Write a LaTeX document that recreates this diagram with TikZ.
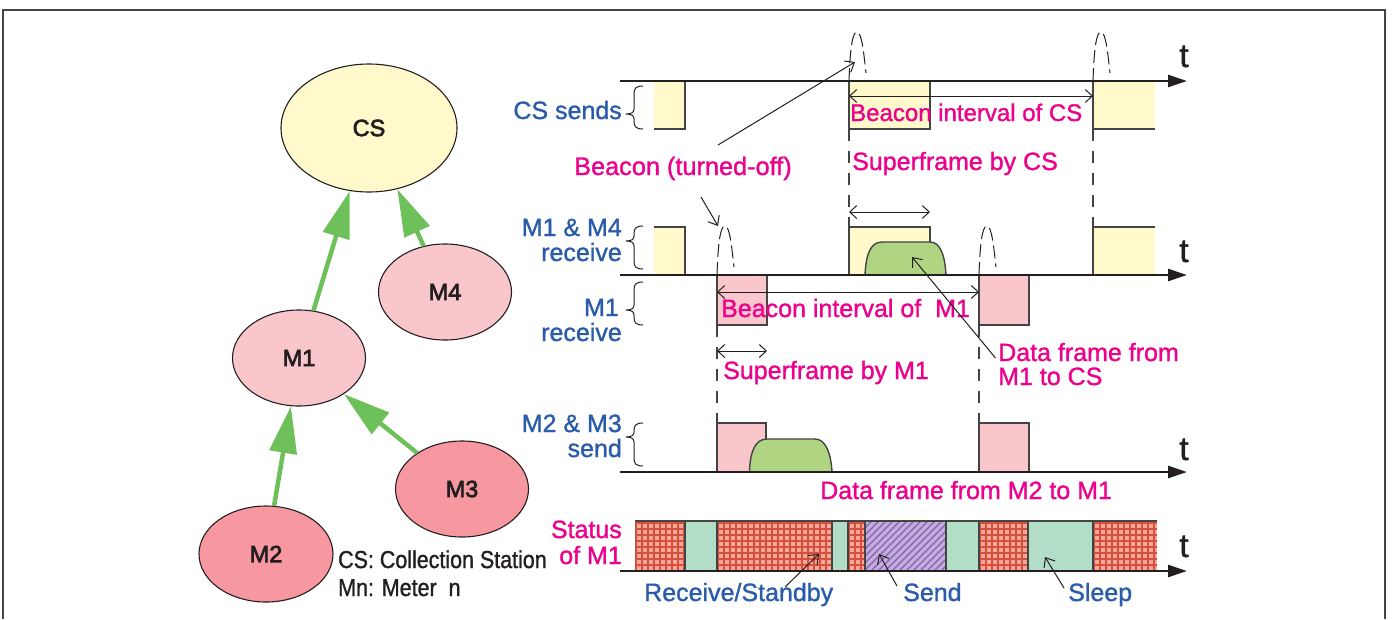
\documentclass[tikz,border=0pt]{standalone}
\usepackage{fontspec}
\setmainfont{Liberation Sans}
\newfontfamily\medfont[FakeBold=3]{Liberation Sans}
\newfontfamily\labfont[FakeBold=1.2]{Liberation Sans}
\newfontfamily\condfont[FakeStretch=0.875,FakeBold=1.2]{Liberation Sans}
\usetikzlibrary{shapes.geometric,arrows.meta}
\definecolor{ink}{HTML}{231F20}
\definecolor{yel}{HTML}{FFF9CC}
\definecolor{pnk}{HTML}{F9C6CB}
\definecolor{dpk}{HTML}{F7979F}
\definecolor{grn}{HTML}{6EC05A}
\definecolor{frm}{HTML}{B0D582}
\definecolor{slp}{HTML}{B2DDC6}
\definecolor{prp}{HTML}{C4ADDA}
\definecolor{prd}{HTML}{8560B2}
\definecolor{mag}{HTML}{EC008C}
\definecolor{blu}{HTML}{2A5CAA}
\definecolor{grl}{HTML}{FBA797}
\definecolor{grd}{HTML}{D5503E}
\definecolor{gry}{HTML}{444444}
\tikzset{
  stn/.style={ellipse,draw=ink,line width=1.1pt,inner sep=0pt,text=ink,font=\fontsize{23.5}{26}\selectfont\medfont},
  link/.style={draw=grn,line width=4.5pt,-{Triangle[length=47pt,width=27pt]}},
  axisline/.style={draw=ink,line width=2.6pt,-{Triangle[length=19pt,width=12pt]}},
  edge/.style={draw=gry,line width=1.5pt},
  vdash/.style={draw=gry,line width=1.1pt,dash pattern=on 12pt off 10pt},
  bdash/.style={draw=ink,line width=1pt,dash pattern=on 13pt off 5pt},
  thin arrow/.style={draw=ink,line width=1pt,-{Straight Barb[length=8pt,width=13pt,line width=1pt]}},
  span/.style={draw=ink,line width=1pt,{Straight Barb[length=7pt,width=13pt,line width=1pt]}-{Straight Barb[length=7pt,width=13pt,line width=1pt]}},
  brc/.style={draw=ink,line width=1pt},
  lab/.style={inner sep=0pt,font=\fontsize{25}{27}\selectfont\labfont},
  mg/.style={lab,text=mag,anchor=base west},
  bl/.style={lab,text=blu,anchor=base east},
  bw/.style={lab,text=blu,anchor=base west},
  tlabel/.style={inner sep=0pt,anchor=base,text=ink,font=\fontsize{33}{36}\selectfont\labfont},
  note/.style={inner sep=0pt,anchor=base west,text=ink,font=\fontsize{24.5}{26}\selectfont\condfont},
}
\newcommand{\bracesh}[3]{%
  \draw[brc] (643,#1) .. controls (636,#1) and (634,#1+2) .. (634,#1+8) -- (634,#2-5)
    .. controls (634,#2-2) and (632,#2) .. (626,#2)
    .. controls (632,#2) and (634,#2+2) .. (634,#2+5) -- (634,#3-8)
    .. controls (634,#3-2) and (636,#3) .. (643,#3);}
\newcommand{\beaconsh}[2]{%
  \draw[bdash] (#1,#2) .. controls (#1+1,#2-30) and (#1+3,#2-49) .. (#1+8,#2-49)
    .. controls (#1+13,#2-49) and (#1+15,#2-25) .. (#1+17,#2-8);}
\newcommand{\gridseg}[2]{%
  \begin{scope}
    \clip (#1,521) rectangle (#2,571);
    \fill[grl] (#1,521) rectangle (#2,571);
    \foreach \k in {0,...,22}{%
      \draw[grd,line width=2pt] (#1+1+\k*6,521) -- (#1+1+\k*6,571);}
    \foreach \k in {0,...,9}{%
      \draw[grd,line width=2pt] (#1,523+\k*6) -- (#2,523+\k*6);}
  \end{scope}}
\newcommand{\sleepseg}[2]{%
  \filldraw[fill=slp,draw=gry,line width=1.4pt] (#1,521) rectangle (#2,571);}
\begin{document}
\begin{tikzpicture}[x=1pt,y=-1pt]
\useasboundingbox (0,0) rectangle (1392,619);
% outer frame
\draw[gry,line width=1.6pt] (3,619) -- (3,10) -- (1385,10) -- (1385,619);
% stations
\node[stn,fill=yel,minimum width=176pt,minimum height=128pt] (cs) at (369,128) {CS};
\node[stn,fill=pnk,minimum width=133pt,minimum height=96pt] (m4) at (445,292) {M4};
\node[stn,fill=pnk,minimum width=133pt,minimum height=96pt] (m1) at (299,358) {M1};
\node[stn,fill=dpk,minimum width=133pt,minimum height=96pt] (m3) at (462,489) {M3};
\node[stn,fill=dpk,minimum width=134pt,minimum height=96pt] (m2) at (266,554) {M2};
\draw[link] (m1) -- (cs);
\draw[link] (m4) -- (cs);
\draw[link] (m3) -- (m1);
\draw[link] (m2) -- (m1);
\node[note] (n1) at (338,568) {CS: Collection Station};
\node[note] (n2) at (338,596) {Mn: Meter\ \ n};
% vertical dashed guides
\draw[vdash] (849,129) -- (849,227);
\draw[vdash] (1093,129) -- (1093,227);
\draw[vdash] (717,325) -- (717,423);
\draw[vdash] (979,325) -- (979,423);
% row 1
\fill[yel] (654,81) rectangle (685,129);
\draw[edge] (654,129) -- (685,129) -- (685,81);
\fill[yel] (849,81) rectangle (930,129);
\draw[edge] (849,81) -- (849,129) -- (930,129) -- (930,81);
\fill[yel] (1093,81) rectangle (1155,129);
\draw[edge] (1093,81) -- (1093,129) -- (1155,129);
% row 2
\fill[yel] (654,227) rectangle (685,275);
\draw[edge] (654,227) -- (685,227) -- (685,275);
\fill[yel] (849,227) rectangle (930,275);
\draw[edge] (849,275) -- (849,227) -- (930,227) -- (930,242);
\fill[yel] (1093,227) rectangle (1155,275);
\draw[edge] (1093,275) -- (1093,227) -- (1155,227);
\filldraw[fill=frm,draw=gry,line width=1.4pt] (865,275) .. controls (866,255) and (870,242) .. (882,242) -- (930,242) .. controls (941,242) and (945,257) .. (946,275);
% row 3
\filldraw[fill=pnk,draw=gry,line width=2pt] (717,275) rectangle (767,325);
\filldraw[fill=pnk,draw=gry,line width=1.5pt] (979,275) rectangle (1029,325);
% row 4
\filldraw[fill=pnk,draw=gry,line width=1.5pt] (717,472) -- (717,423) -- (766,423) -- (766,472);
\filldraw[fill=pnk,draw=gry,line width=1.5pt] (979,472) -- (979,423) -- (1029,423) -- (1029,472);
\filldraw[fill=frm,draw=gry,line width=1.4pt] (749.5,472) .. controls (750,452) and (755,439) .. (767,439) -- (815,439) .. controls (826,439) and (831,454) .. (832,472);
% row 5
\gridseg{635}{685}
\gridseg{717}{832}
\gridseg{848}{865}
\gridseg{979}{1028}
\gridseg{1093}{1157}
\draw[gry,line width=1.4pt] (635,521) -- (1157,521);
\sleepseg{685}{717}
\sleepseg{832}{848}
\sleepseg{946}{979}
\sleepseg{1028}{1093}
\begin{scope}
  \clip (865,521) rectangle (946,571);
  \fill[prp] (865,521) rectangle (946,571);
  \foreach \k in {-10,...,14}{%
    \draw[prd,line width=1.3pt] (865+\k*7-5,575) -- (865+\k*7+55,515);}
\end{scope}
\draw[gry,line width=1.4pt] (865,521) rectangle (946,571);
% beacons
\beaconsh{849}{81}
\beaconsh{1093}{81}
\beaconsh{717}{275}
\beaconsh{979}{275}
% axes
\foreach \n/\yy in {a/81,b/275,c/472,d/571}{%
  \coordinate (\n0) at (620,\yy);
  \coordinate (\n1) at (1187,\yy);
  \draw[axisline] (\n0) -- (\n1);}
\node[tlabel] (t1) at (1184,67) {t};
\node[tlabel] (t2) at (1184,262) {t};
\node[tlabel] (t3) at (1184,460) {t};
\node[tlabel] (t4) at (1184,557) {t};
% braces
\bracesh{86}{114}{129}
\bracesh{226}{241}{269}
\bracesh{282}{310}{325}
\bracesh{423}{437}{466}
% spans
\coordinate (s1a) at (849,96);
\coordinate (s1b) at (1093,96);
\coordinate (s2a) at (849,212);
\coordinate (s2b) at (930,212);
\coordinate (s3a) at (717,292);
\coordinate (s3b) at (979,292);
\coordinate (s4a) at (717,351);
\coordinate (s4b) at (767,351);
\draw[span] (s1a) -- (s1b);
\draw[span] (s2a) -- (s2b);
\draw[span] (s3a) -- (s3b);
\draw[span] (s4a) -- (s4b);
% left labels
\node[bl] (l1) at (622,119) {CS sends};
\node[bl] (l2) at (622,236) {M1 \& M4};
\node[bl] (l3) at (622,261) {receive};
\node[bl] (l4) at (619,316) {M1};
\node[bl] (l5) at (622,341) {receive};
\node[bl] (l6) at (622,432) {M2 \& M3};
\node[bl] (l7) at (622,457) {send};
\node[lab,text=mag,anchor=base east] (l8) at (622,538) {Status};
\node[lab,text=mag,anchor=base east] (l9) at (622,564) {of M1};
% magenta labels
\node[mg,font=\fontsize{25.3}{27}\selectfont\labfont] (b0) at (574,175) {Beacon (turned-off)};
\node[mg,font=\fontsize{24}{26}\selectfont\labfont] (b1) at (850,121) {Beacon interval of CS};
\node[mg] (b2) at (852,170) {Superframe by CS};
\node[mg] (b3) at (721,317) {Beacon interval of\ \ M1};
\node[mg] (b4) at (723,379) {Superframe by M1};
\node[mg] (b5) at (998,361) {Data frame from};
\node[mg] (b6) at (998,385) {M1 to CS};
\node[mg] (b7) at (820,499) {Data frame from M2 to M1};
% bottom labels
\node[bw] (k1) at (644,601) {Receive/Standby};
\node[bw] (k2) at (903,601) {Send};
\node[bw] (k3) at (1068,601) {Sleep};
% pointers
\coordinate (p1a) at (718,145); \coordinate (p1b) at (855,62);
\coordinate (p2a) at (701,197); \coordinate (p2b) at (718,226);
\coordinate (p3a) at (995.5,358); \coordinate (p3b) at (912,257);
\coordinate (p4a) at (785,587); \coordinate (p4b) at (819,554);
\coordinate (p5a) at (897,586); \coordinate (p5b) at (879,554);
\coordinate (p6a) at (1064,588); \coordinate (p6b) at (1045,557);
\draw[thin arrow] (p1a) -- (p1b);
\draw[thin arrow] (p2a) -- (p2b);
\draw[thin arrow] (p3a) -- (p3b);
\draw[thin arrow] (p4a) -- (p4b);
\draw[thin arrow] (p5a) -- (p5b);
\draw[thin arrow] (p6a) -- (p6b);
\end{tikzpicture}
\end{document}
